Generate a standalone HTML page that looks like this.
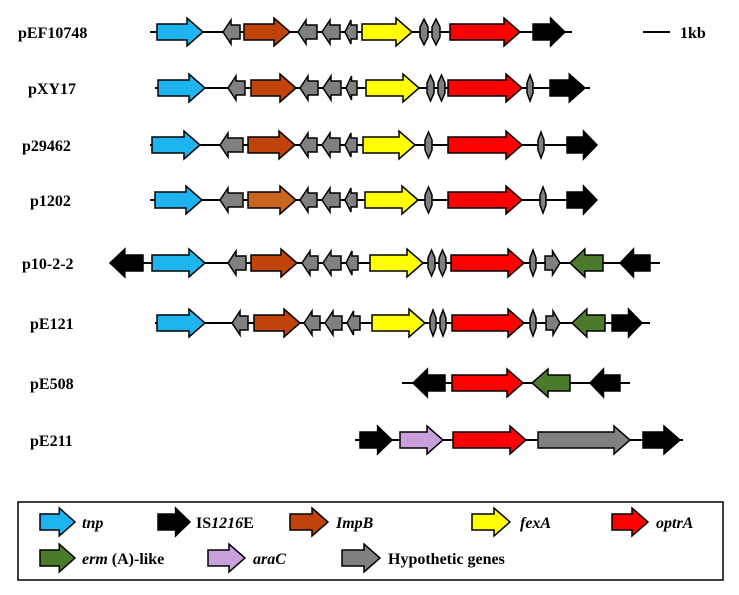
<!DOCTYPE html>
<html><head><meta charset="utf-8"><style>
body{margin:0;background:#fff;width:739px;height:590px;overflow:hidden}
svg text{font-family:"Liberation Serif",serif;font-weight:bold;font-size:16px;fill:#000}
</style></head><body>
<svg id="s" width="739" height="590" xmlns="http://www.w3.org/2000/svg">
<text x="18" y="38">pEF10748</text>
<text x="28" y="94">pXY17</text>
<text x="22" y="151">p29462</text>
<text x="30" y="206">p1202</text>
<text x="22" y="269">p10-2-2</text>
<text x="30" y="329">pE121</text>
<text x="30" y="389">pE508</text>
<text x="30" y="446">pE211</text>
<line x1="643" y1="32" x2="670" y2="32" stroke="#000" stroke-width="2"/>
<text x="680" y="38">1kb</text>
<rect x="18" y="502" width="705" height="78" fill="none" stroke="#000" stroke-width="1.5"/>
<text x="82" y="528" font-style="italic">tnp</text>
<text x="196" y="528">IS<tspan font-style="italic">1216</tspan>E</text>
<text x="336" y="528" font-style="italic">ImpB</text>
<text x="520" y="528" font-style="italic">fexA</text>
<text x="656" y="528" font-style="italic">optrA</text>
<text x="82" y="564"><tspan font-style="italic">erm</tspan> (A)-like</text>
<text x="253" y="564" font-style="italic">araC</text>
<text x="388" y="564">Hypothetic genes</text>
</svg>
<script>
var s=document.getElementById('s'),NS='http://www.w3.org/2000/svg';
var C={b:'#1eb4f0',k:'#000',o:'#c0440a',O:'#c8641e',y:'#ffff00',r:'#ff0000',g:'#808080',G:'#4a7a2a',p:'#c8a0dc'};
function ln(x1,x2,y){var l=document.createElementNS(NS,'line');l.setAttribute('x1',x1);l.setAttribute('x2',x2);l.setAttribute('y1',y);l.setAttribute('y2',y);l.setAttribute('stroke','#000');l.setAttribute('stroke-width',2);s.appendChild(l);}
function ar(x1,x2,y,d,c,small){var bh=small?7:8,hh=small?12:14,hl=small?Math.min(8,(x2-x1)/2):Math.min(16,(x2-x1)*0.45);var p;
if(d>0)p=[[x1,y-bh],[x2-hl,y-bh],[x2-hl,y-hh],[x2,y],[x2-hl,y+hh],[x2-hl,y+bh],[x1,y+bh]];
else p=[[x2,y-bh],[x1+hl,y-bh],[x1+hl,y-hh],[x1,y],[x1+hl,y+hh],[x1+hl,y+bh],[x2,y+bh]];
var e=document.createElementNS(NS,'polygon');e.setAttribute('points',p.map(function(q){return q.join(',')}).join(' '));e.setAttribute('fill',C[c]);e.setAttribute('stroke','#000');e.setAttribute('stroke-width',1.5);s.appendChild(e);}
function sm(x1,x2,y){var m=(x1+x2)/2,e=document.createElementNS(NS,'polygon');e.setAttribute('points',[[m,y-13],[x2,y-5],[x2,y+5],[m,y+13],[x1,y+5],[x1,y-5]].map(function(q){return q.join(',')}).join(' '));e.setAttribute('fill','#808080');e.setAttribute('stroke','#000');e.setAttribute('stroke-width',1.5);s.appendChild(e);}
var R=[
[32,150,572,[[157,203,1,'b'],[223,240,-1,'g',1],[244,290,1,'o'],[298,317,-1,'g',1],[322,340,-1,'g',1],[345,357,-1,'g',1],[362,412,1,'y'],[450,520,1,'r'],[533,565,1,'k']],[[420,428],[432,440]]],
[88,155,590,[[158,205,1,'b'],[228,245,-1,'g',1],[251,296,1,'o'],[300,318,-1,'g',1],[323,341,-1,'g',1],[346,357,-1,'g',1],[366,419,1,'y'],[448,522,1,'r'],[550,585,1,'k']],[[427,434],[438,445],[527,533]]],
[145,150,595,[[152,200,1,'b'],[220,243,-1,'g',1],[248,295,1,'o'],[300,317,-1,'g',1],[322,340,-1,'g',1],[345,357,-1,'g',1],[363,415,1,'y'],[448,522,1,'r'],[567,597,1,'k']],[[425,432],[538,544]]],
[200,150,595,[[155,202,1,'b'],[220,243,-1,'g',1],[248,296,1,'O'],[300,317,-1,'g',1],[322,340,-1,'g',1],[345,357,-1,'g',1],[365,418,1,'y'],[448,522,1,'r'],[567,597,1,'k']],[[425,432],[540,546]]],
[263,110,660,[[110,143,-1,'k'],[152,205,1,'b'],[228,246,-1,'g',1],[251,297,1,'o'],[302,318,-1,'g',1],[323,341,-1,'g',1],[346,358,-1,'g',1],[370,423,1,'y'],[451,524,1,'r'],[545,560,1,'g',1],[570,603,-1,'G'],[620,650,-1,'k']],[[428,435],[439,446],[530,536]]],
[323,155,650,[[157,205,1,'b'],[232,248,-1,'g',1],[254,300,1,'o'],[304,320,-1,'g',1],[325,342,-1,'g',1],[347,360,-1,'g',1],[372,425,1,'y'],[452,524,1,'r'],[546,560,1,'g',1],[572,605,-1,'G'],[612,642,1,'k']],[[430,436],[440,446],[530,536]]],
[383,402,630,[[413,445,-1,'k'],[452,523,1,'r'],[532,570,-1,'G'],[590,620,-1,'k']],[]],
[440,355,683,[[360,392,1,'k'],[400,443,1,'p'],[453,526,1,'r'],[538,630,1,'g'],[643,680,1,'k']],[]]];
R.forEach(function(r){ln(r[1],r[2],r[0]);r[3].forEach(function(a){ar(a[0],a[1],r[0],a[2],a[3],a[4])});r[4].forEach(function(a){sm(a[0],a[1],r[0])});});
[[40,75,522,'b'],[158,190,522,'k'],[290,328,522,'o'],[472,510,522,'y'],[612,648,522,'r'],[40,75,558,'G'],[208,245,558,'p'],[342,380,558,'g']].forEach(function(a){ar(a[0],a[1],a[2],1,a[3])});
</script>
</body></html>
